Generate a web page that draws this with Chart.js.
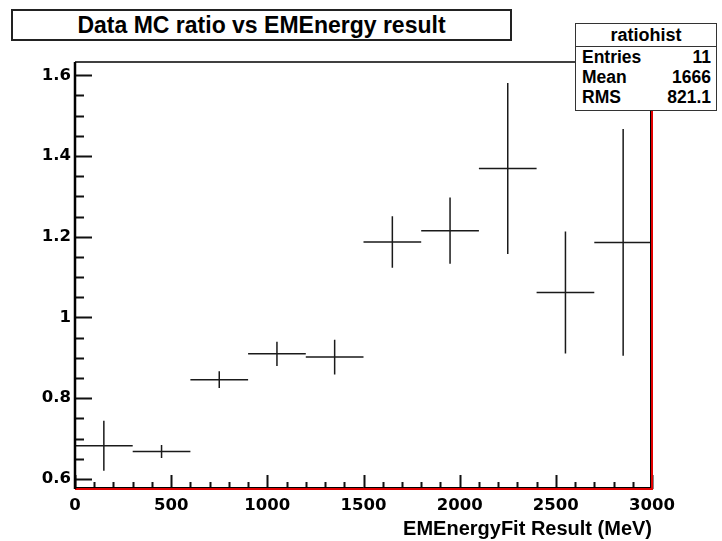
<!DOCTYPE html>
<html>
<head>
<meta charset="utf-8">
<script src="https://cdn.jsdelivr.net/npm/chart.js@4.4.0/dist/chart.umd.min.js"></script>
<style>
  html, body { margin: 0; padding: 0; background: #fff; }
  #wrap { position: relative; width: 722px; height: 541px; }
  #titleBox {
    position: absolute; left: 11px; top: 9px; width: 501px; height: 32px;
    box-sizing: border-box; border: 2px solid #222; background: #fff;
    font: bold 23px "Liberation Sans", Arial, sans-serif; color: #000;
    text-align: center; line-height: 28px;
  }
  #stats {
    position: absolute; left: 575px; top: 23px; width: 142px; height: 88px;
    box-sizing: border-box; border: 1.5px solid #333; background: #fff;
    font-family: "Liberation Sans", Arial, sans-serif; font-weight: bold; color: #000;
  }
  #stats .head { height: 22px; line-height: 22px; text-align: center; font-size: 18px; border-bottom: 1.5px solid #333; }
  #stats .row { height: 20px; line-height: 20px; font-size: 17.5px; display: flex; justify-content: space-between; padding: 0 5px 0 6px; }
</style>
</head>
<body>
<div id="wrap">
  <canvas id="ratioChart" width="722" height="541"></canvas>
  <div id="titleBox">Data MC ratio vs EMEnergy result</div>
  <div id="stats">
    <div class="head">ratiohist</div>
    <div class="row"><span>Entries</span><span id="sEntries"></span></div>
    <div class="row"><span>Mean</span><span id="sMean"></span></div>
    <div class="row"><span>RMS</span><span id="sRms"></span></div>
  </div>
</div>
<script>
// bins of 300 MeV, centres and measured ratio with its error
const binCenters = [150, 450, 750, 1050, 1350, 1650, 1950, 2250, 2550, 2850];
const ratioValues = [0.682, 0.668, 0.846, 0.910, 0.902, 1.187, 1.215, 1.369, 1.062, 1.186];
const ratioErrors = [0.062, 0.016, 0.021, 0.030, 0.043, 0.064, 0.082, 0.212, 0.151, 0.281];
const binHalfWidth = 150;

const xTickValues = [0, 500, 1000, 1500, 2000, 2500, 3000];
const yTickValues = [0.6, 0.8, 1.0, 1.2, 1.4, 1.6];

const statsEntries = '11';
const statsMean = '1666';
const statsRms = '821.1';

document.getElementById('sEntries').textContent = statsEntries;
document.getElementById('sMean').textContent = statsMean;
document.getElementById('sRms').textContent = statsRms;

const tickFont = { family: '"DejaVu Sans", sans-serif', size: 16.5, weight: 'bold' };

// ROOT-like frame, inward ticks and error crosses
const rootStyle = {
    id: 'rootStyle',
    afterDatasetsDraw(chart) {
        const ctx = chart.ctx;
        const xs = chart.scales.x;
        const ys = chart.scales.y;
        const area = chart.chartArea;

        ctx.save();
        ctx.strokeStyle = '#1a1a1a';
        ctx.lineWidth = 1.5;
        binCenters.forEach((c, i) => {
            const y = ys.getPixelForValue(ratioValues[i]);
            const x = xs.getPixelForValue(c);
            ctx.beginPath();
            ctx.moveTo(xs.getPixelForValue(c - binHalfWidth), y);
            ctx.lineTo(xs.getPixelForValue(c + binHalfWidth), y);
            ctx.moveTo(x, ys.getPixelForValue(ratioValues[i] + ratioErrors[i]));
            ctx.lineTo(x, ys.getPixelForValue(ratioValues[i] - ratioErrors[i]));
            ctx.stroke();
        });

        // top frame line
        ctx.strokeStyle = '#000';
        ctx.lineWidth = 1.5;
        ctx.beginPath();
        ctx.moveTo(area.left, area.top);
        ctx.lineTo(area.right, area.top);
        ctx.stroke();

        // y ticks (inward)
        ctx.lineWidth = 2;
        ctx.strokeStyle = '#111';
        ctx.beginPath();
        for (let v = 0.6; v <= ys.max + 1e-9; v += 0.05) {
            const py = Math.round(ys.getPixelForValue(v)) + 0.5;
            const major = yTickValues.some(t => Math.abs(t - v) < 1e-6);
            ctx.moveTo(area.left, py);
            ctx.lineTo(area.left + (major ? 17 : 9), py);
        }
        // x ticks (inward)
        for (let v = 0; v <= xs.max + 1e-9; v += 100) {
            const px = Math.round(xs.getPixelForValue(v)) + 0.5;
            const major = xTickValues.includes(v);
            ctx.moveTo(px, area.bottom);
            ctx.lineTo(px, area.bottom - (major ? 14 : 7));
        }
        ctx.stroke();

        // red frame on the right and bottom
        ctx.strokeStyle = '#000';
        ctx.lineWidth = 1;
        ctx.beginPath();
        ctx.moveTo(area.left, area.bottom - 1.5);
        ctx.lineTo(area.right, area.bottom - 1.5);
        ctx.moveTo(area.right - 1.5, area.top);
        ctx.lineTo(area.right - 1.5, area.bottom);
        ctx.stroke();
        ctx.strokeStyle = '#e00000';
        ctx.lineWidth = 2;
        ctx.beginPath();
        ctx.moveTo(area.left, area.bottom);
        ctx.lineTo(area.right + 1, area.bottom);
        ctx.moveTo(area.right, area.top);
        ctx.lineTo(area.right, area.bottom);
        ctx.stroke();

        // left axis line
        ctx.strokeStyle = '#000';
        ctx.lineWidth = 2.5;
        ctx.beginPath();
        ctx.moveTo(area.left, area.top);
        ctx.lineTo(area.left, area.bottom);
        ctx.stroke();
        ctx.restore();
    }
};

new Chart(document.getElementById('ratioChart'), {
    type: 'scatter',
    data: {
        datasets: [{
            label: 'ratiohist',
            data: binCenters.map((c, i) => ({ x: c, y: ratioValues[i] })),
            pointRadius: 0,
            showLine: false
        }]
    },
    options: {
        responsive: false,
        animation: false,
        layout: { padding: { top: 62, right: 70, left: 0, bottom: 0 } },
        plugins: {
            legend: { display: false },
            tooltip: { enabled: false },
            title: { display: false }
        },
        scales: {
            x: {
                type: 'linear',
                min: 0,
                max: 3000,
                grid: { display: false, drawTicks: false },
                border: { display: false },
                afterBuildTicks: s => { s.ticks = xTickValues.map(v => ({ value: v })); },
                afterFit: s => { s.height = 52; },
                ticks: {
                    font: tickFont,
                    color: '#000',
                    padding: 7,
                    maxRotation: 0,
                    callback: v => String(v)
                },
                title: {
                    display: true,
                    text: 'EMEnergyFit Result (MeV)',
                    align: 'end',
                    color: '#000',
                    font: { family: '"Liberation Sans", Arial, sans-serif', size: 20, weight: 'bold' },
                    padding: { top: 0, bottom: 0 }
                }
            },
            y: {
                type: 'linear',
                min: 0.575,
                max: 1.633,
                grid: { display: false, drawTicks: false },
                border: { display: false },
                afterBuildTicks: s => { s.ticks = yTickValues.map(v => ({ value: v })); },
                afterFit: s => { s.width = 75; },
                ticks: {
                    font: tickFont,
                    color: '#000',
                    padding: 4,
                    callback: v => String(+v.toFixed(1))
                }
            }
        }
    },
    plugins: [rootStyle]
});
</script>
</body>
</html>
